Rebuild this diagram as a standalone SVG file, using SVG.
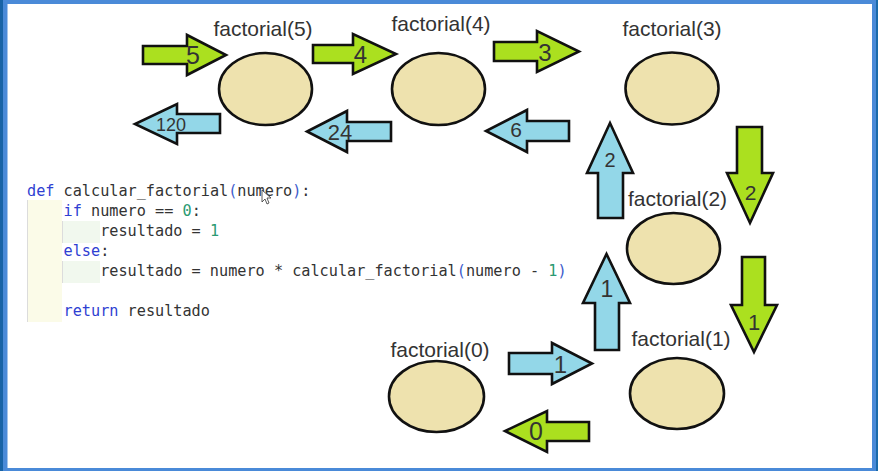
<svg xmlns="http://www.w3.org/2000/svg" width="878" height="471" viewBox="0 0 878 471">
<style>
.node ellipse{fill:#eee2ae;stroke:#111;stroke-width:2.6}
.lbl{font-family:"Liberation Sans",Arial,sans-serif;font-size:21px;fill:#333;text-anchor:middle}
.g{fill:#abe01f;stroke:#111;stroke-width:2.6;stroke-linejoin:miter}
.b{fill:#93d7e8;stroke:#111;stroke-width:2.6;stroke-linejoin:miter}
.num{font-family:"Liberation Sans",Arial,sans-serif;fill:#333;text-anchor:middle}
.code{font-family:"DejaVu Sans Mono",monospace;font-size:15.2px;fill:#333;white-space:pre}
.kw{fill:#2f3fd2}
.br{fill:#3d5ccc}
.n{fill:#2a9a72}
</style>
<rect x="0" y="0" width="878" height="471" fill="#4a8ad8"/>
<rect x="0" y="0" width="3" height="471" fill="#1863a6"/>
<rect x="876" y="0" width="2" height="471" fill="#1a6aaa"/>
<rect x="7.5" y="4" width="864.5" height="464" fill="#ffffff"/>

<g id="code">
<rect x="27" y="200" width="35" height="122" fill="#fbfbe8"/>
<rect x="62" y="221" width="38" height="22" fill="#f1f8ee"/>
<rect x="62" y="261" width="38" height="22" fill="#f1f8ee"/>
<line x1="27.5" y1="200" x2="27.5" y2="322" stroke="#dcdcdc" stroke-width="1"/>
<line x1="62.5" y1="221" x2="62.5" y2="243" stroke="#dcdcdc" stroke-width="1"/>
<line x1="62.5" y1="261" x2="62.5" y2="283" stroke="#dcdcdc" stroke-width="1"/>
<text class="code" x="27" y="196"><tspan class="kw">def</tspan> calcular_factorial<tspan class="br">(</tspan>numero<tspan class="br">)</tspan>:</text>
<text class="code" x="27" y="216">    <tspan class="kw">if</tspan> numero == <tspan class="n">0</tspan>:</text>
<text class="code" x="27" y="236">        resultado = <tspan class="n">1</tspan></text>
<text class="code" x="27" y="256">    <tspan class="kw">else</tspan>:</text>
<text class="code" x="27" y="276">        resultado = numero * calcular_factorial<tspan class="br">(</tspan>numero - <tspan class="n">1</tspan><tspan class="br">)</tspan></text>
<text class="code" x="27" y="316">    <tspan class="kw">return</tspan> resultado</text>
<polygon points="262,190 262,202 265,199 267,204 269,203 267,198 271,198" fill="#fff" stroke="#333" stroke-width="0.8"/>
</g>

<g id="f5" class="node"><ellipse cx="265.5" cy="89" rx="46.5" ry="36"/><text class="lbl" x="263" y="36">factorial(5)</text></g>
<g id="f4" class="node"><ellipse cx="438.5" cy="89" rx="46.5" ry="36"/><text class="lbl" x="441" y="31">factorial(4)</text></g>
<g id="f3" class="node"><ellipse cx="672" cy="88.5" rx="46.5" ry="36"/><text class="lbl" x="672" y="36">factorial(3)</text></g>
<g id="f2" class="node"><ellipse cx="673.5" cy="248.5" rx="46.5" ry="35.5"/><text class="lbl" x="677.5" y="206">factorial(2)</text></g>
<g id="f1" class="node"><ellipse cx="677" cy="393.5" rx="47" ry="35.5"/><text class="lbl" x="681" y="346">factorial(1)</text></g>
<g id="f0" class="node"><ellipse cx="436.5" cy="396.5" rx="47.5" ry="35.5"/><text class="lbl" x="440" y="357">factorial(0)</text></g>

<g id="connectors">
<polygon class="g" points="143,46 187,46 187,35 226,55 187,75 187,64 143,64"/>
<text class="num" x="193" y="64" font-size="25">5</text>
<polygon class="g" points="313,45 353,45 353,34 396,54 353,74 353,63 313,63"/>
<text class="num" x="360.5" y="63" font-size="24">4</text>
<polygon class="g" points="494,42 537,42 537,31 579,51.5 537,72 537,61 494,61"/>
<text class="num" x="545" y="60.5" font-size="24">3</text>

<polygon class="b" points="220,114 177,114 177,104 135,124 177,144 177,133 220,133"/>
<text class="num" x="171" y="131" font-size="18">120</text>
<polygon class="b" points="391,122 347,122 347,111 307,131.5 347,152 347,141 391,141"/>
<text class="num" x="340" y="139.5" font-size="22">24</text>
<polygon class="b" points="569,121 527,121 527,110 486,131 527,152 527,141 569,141"/>
<text class="num" x="516" y="137" font-size="21">6</text>

<polygon class="b" points="598,218 598,173 587,173 610,123 633,173 623,173 623,218"/>
<text class="num" x="610" y="166.5" font-size="20">2</text>
<polygon class="b" points="595,350 595,303 583,303 606.5,254 630,303 619,303 619,350"/>
<text class="num" x="607" y="296.5" font-size="23">1</text>

<polygon class="g" points="737,127 762,127 762,173 773,173 750,223 727,173 737,173"/>
<text class="num" x="750.5" y="200" font-size="21">2</text>
<polygon class="g" points="742,257 765,257 765,305 777,305 754,352 731,305 742,305"/>
<text class="num" x="754" y="330" font-size="22">1</text>

<polygon class="b" points="509,353 552,353 552,343 592,363.5 552,384 552,374 509,374"/>
<text class="num" x="560.5" y="372.5" font-size="24">1</text>
<polygon class="g" points="589,422 547,422 547,411 505,431 547,452 547,441 589,441"/>
<text class="num" x="536" y="440" font-size="25">0</text>
</g>
</svg>
